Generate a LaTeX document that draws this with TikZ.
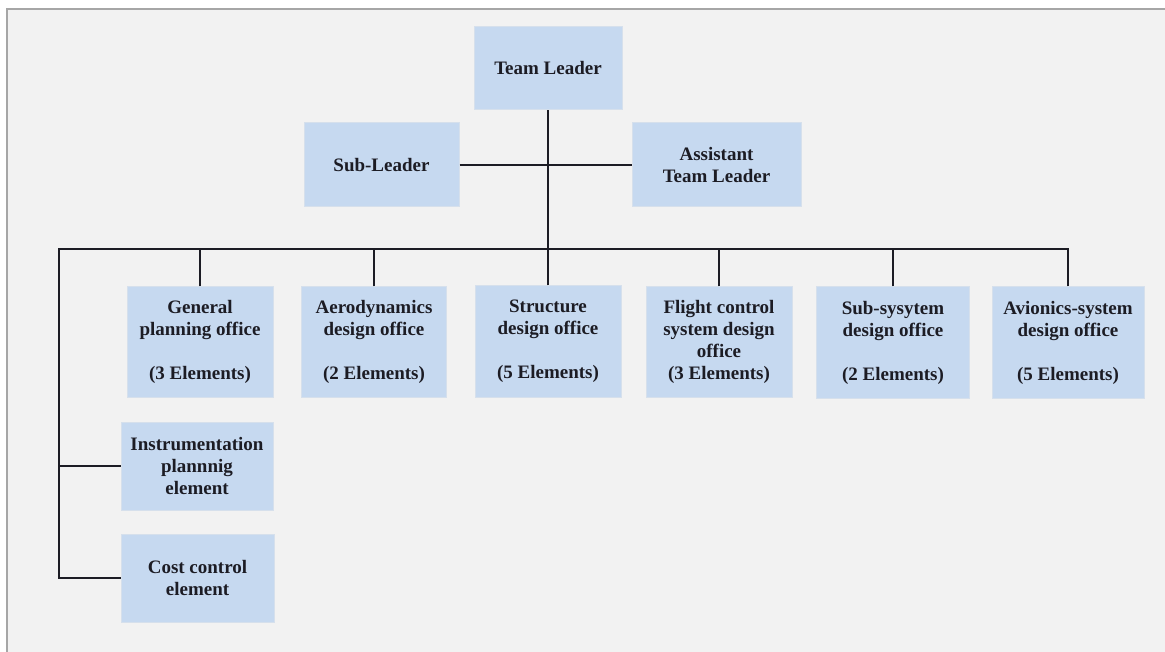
\documentclass[tikz,border=0pt]{standalone}
\usepackage{fontspec}
\setmainfont{Liberation Serif}
\begin{document}
\definecolor{panelbg}{HTML}{F2F2F2}
\definecolor{panelrule}{HTML}{A6A6A6}
\definecolor{boxfill}{HTML}{C6D9F0}
\definecolor{boxedge}{HTML}{D6E0EC}
\definecolor{inkdark}{HTML}{1C1C24}
\begin{tikzpicture}[x=1pt,y=-1pt,
  unit/.style={rectangle, fill=boxfill, draw=boxedge, line width=1pt,
    inner sep=0pt, align=center, text=inkdark,
    font=\fontsize{19}{22}\selectfont\bfseries},
  link/.style={draw=inkdark, line width=2.1pt}]
\useasboundingbox (0,0) rectangle (1165,652);
% page and framed panel
\fill[white] (0,0) rectangle (1165,652);
\fill[panelbg] (7,9) rectangle (1165,652);
\draw[panelrule, line width=1.5pt] (7,652) -- (7,9) -- (1165,9);

% leadership
\node[unit, minimum width=148, minimum height=83] (lead) at (548,68.5) {Team Leader};
\node[unit, minimum width=155, minimum height=84] (sub) at (381.5,165) {Sub-Leader};
\node[unit, minimum width=169, minimum height=84] (asst) at (716.5,165) {Assistant\\Team Leader};

% design offices
\node[unit, minimum width=146, minimum height=110] (g1) at (200,342)
  {General\\planning office\\[22pt](3 Elements)};
\node[unit, minimum width=145, minimum height=110] (g2) at (374,342)
  {Aerodynamics\\design office\\[22pt](2 Elements)};
\node[unit, minimum width=146, minimum height=111] (g3) at (548,341.5)
  {Structure\\design office\\[22pt](5 Elements)};
\node[unit, minimum width=146, minimum height=110] (g4) at (719,342)
  {Flight control\\system design\\office\\(3 Elements)};
\node[unit, minimum width=153, minimum height=111] (g5) at (893,342.5)
  {Sub-sysytem\\design office\\[22pt](2 Elements)};
\node[unit, minimum width=152, minimum height=111] (g6) at (1068,342.5)
  {Avionics-system\\design office\\[22pt](5 Elements)};

% staff elements
\node[unit, minimum width=152, minimum height=88] (ins) at (197,466)
  {Instrumentation\\plannnig\\element};
\node[unit, minimum width=153, minimum height=88] (cost) at (197.5,578)
  {Cost control\\element};

% connectors
\coordinate (busL) at (59,249);
\draw[link] (sub.east) -- (asst.west);
\draw[link] (lead.south) -- (lead.south |- busL);
\draw[link] (g6.north) |- (busL) |- (cost.west);
\draw[link] (ins.west) -- (busL |- ins.west);
\foreach \g in {g1,g2,g3,g4,g5}
  \draw[link] (\g.north) -- (\g.north |- busL);
\end{tikzpicture}
\end{document}
